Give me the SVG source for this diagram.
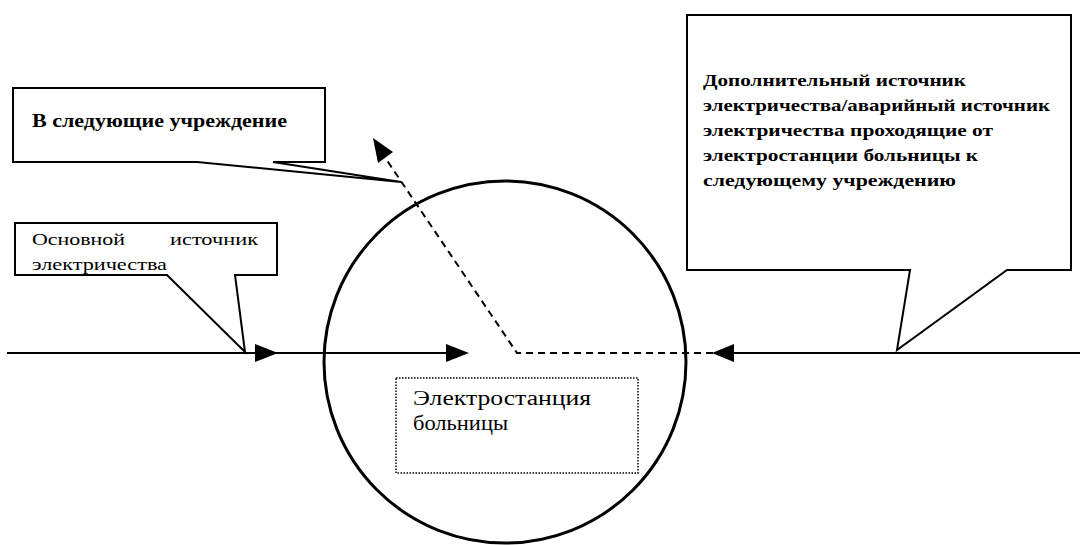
<svg xmlns="http://www.w3.org/2000/svg" width="1084" height="545" viewBox="0 0 1084 545">
<defs>
<style>
.callout{fill:#fff;stroke:#000;stroke-width:2;stroke-linejoin:miter}
.line{stroke:#000;stroke-width:2;fill:none}
.dash{stroke:#000;stroke-width:2;fill:none;stroke-dasharray:7,5}
.head{fill:#000}
.tb{font-family:"Liberation Serif","DejaVu Serif",serif;font-weight:bold;font-size:17px;fill:#000}
.tr{font-family:"Liberation Serif","DejaVu Serif",serif;font-size:17px;fill:#000}
.ts{font-family:"Liberation Serif","DejaVu Serif",serif;font-size:20px;fill:#000}
</style>
</defs>
<g id="station-circle">
<circle cx="505" cy="362" r="181" fill="none" stroke="#000" stroke-width="3"/>
</g>
<g id="connectors">
<line class="line" x1="7" y1="353" x2="460" y2="353"/>
<polygon class="head" points="255,344 278,353 255,362"/>
<polygon class="head" points="446,344 469,353 446,362"/>
<polyline class="dash" points="713,353 517,353 384,156"/>
<polygon class="head" points="373,138 393,152 378,163"/>
<line class="line" x1="720" y1="353" x2="1080" y2="353"/>
<polygon class="head" points="734,344 712,353 734,362"/>
</g>
<g id="callout-next">
<path class="callout" d="M13,88 H325 V162 H273 L401,182 L197,162 H13 Z"/>
<text class="tb" x="32" y="127" style="font-size:18.5px" textLength="255" lengthAdjust="spacingAndGlyphs">В следующие учреждение</text>
</g>
<g id="callout-main">
<path class="callout" d="M15,223 H277 V275 H235 L245,352 L167,275 H15 Z"/>
<text class="tr" x="32" y="245" textLength="93" lengthAdjust="spacingAndGlyphs">Основной</text>
<text class="tr" x="170" y="245" textLength="88" lengthAdjust="spacingAndGlyphs">источник</text>
<text class="tr" x="32" y="270" textLength="135" lengthAdjust="spacingAndGlyphs">электричества</text>
</g>
<g id="callout-backup">
<path class="callout" d="M687,15 H1071 V270 H1007 L897,350 L910,270 H687 Z"/>
<text class="tb" x="703" y="86" textLength="263" lengthAdjust="spacingAndGlyphs">Дополнительный источник</text>
<text class="tb" x="703" y="111" textLength="347" lengthAdjust="spacingAndGlyphs">электричества/аварийный источник</text>
<text class="tb" x="703" y="136" textLength="290" lengthAdjust="spacingAndGlyphs">электричества проходящие от</text>
<text class="tb" x="703" y="161" textLength="275" lengthAdjust="spacingAndGlyphs">электростанции больницы к</text>
<text class="tb" x="703" y="186" textLength="253" lengthAdjust="spacingAndGlyphs">следующему учреждению</text>
</g>
<g id="station">
<rect x="396" y="378" width="242" height="95" fill="#fff" stroke="#000" stroke-width="1.5" stroke-dasharray="1.5,1.5"/>
<text class="ts" x="413" y="405" textLength="178" lengthAdjust="spacingAndGlyphs">Электростанция</text>
<text class="ts" x="413" y="430" textLength="95" lengthAdjust="spacingAndGlyphs">больницы</text>
</g>
</svg>
